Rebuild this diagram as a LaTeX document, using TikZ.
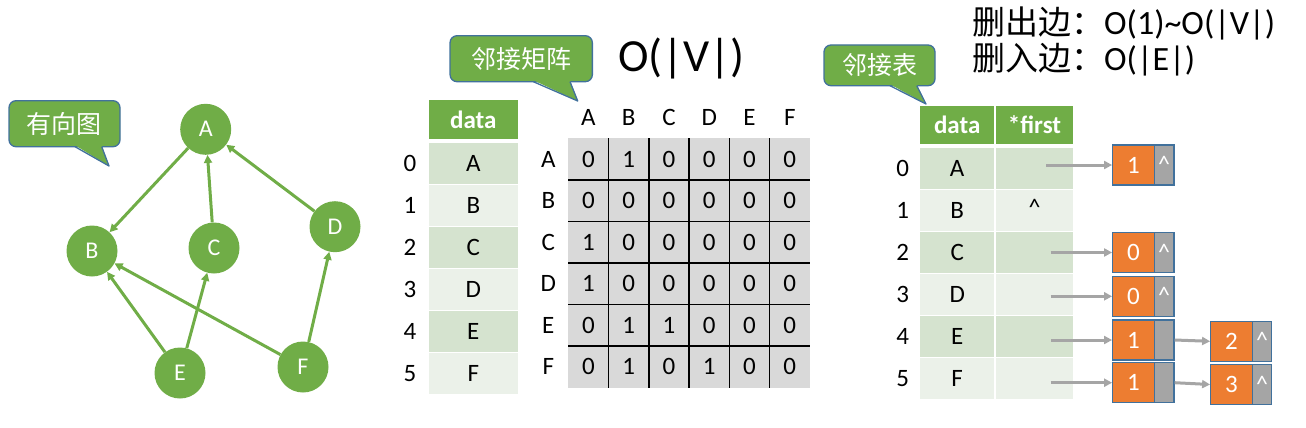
\documentclass[tikz,border=0pt]{standalone}
\usepackage{fontspec}
\setmainfont{Carlito}
\newfontfamily\cjk{Noto Sans CJK SC}
\usetikzlibrary{arrows.meta}
\definecolor{gr}{HTML}{70AD47}
\definecolor{bl}{HTML}{41719C}
\definecolor{orng}{HTML}{ED7D31}
\definecolor{gry}{HTML}{A5A5A5}
\definecolor{bandA}{HTML}{D5E3CF}
\definecolor{bandB}{HTML}{EBF1E9}
\definecolor{mgray}{HTML}{D9D9D9}
\newcommand\myfs[1]{\fontsize{#1}{#1}\selectfont}
\begin{document}
\begin{tikzpicture}[x=1pt,y=-1pt,
 vtx/.style={circle,fill=gr,minimum size=51pt,inner sep=0pt,text=white,font=\myfs{24}},
 gedge/.style={draw=gr,line width=3pt,-{Triangle[length=8pt,width=8pt]}},
 callbox/.style={draw=bl,line width=1.3pt,fill=gr,rounded corners=7pt,text=white,font=\cjk\myfs{25},inner sep=0pt},
 ptrfill/.style={fill=gr},
 ptrline/.style={draw=bl,line width=1.3pt,line join=round},
 lbl/.style={inner sep=0pt,font=\myfs{25}},
 hdr/.style={fill=gr,text=white,font=\bfseries\myfs{25},inner sep=0pt},
 cell/.style={inner sep=0pt,font=\myfs{25}},
 onode/.style={fill=orng,draw=bl,line width=1.2pt,text=white,font=\myfs{25},minimum width=41.6pt,minimum height=40pt,inner sep=0pt},
 gnode/.style={fill=gry,draw=bl,line width=1.2pt,minimum width=19.7pt,minimum height=40pt,inner sep=0pt,text=white,font=\myfs{24},text height=1.5em,text depth=0pt},
 caret/.style={inner sep=0pt,font=\myfs{24},text height=1.12em,text depth=0pt},
 parr/.style={draw=gry,line width=3pt,-{Triangle[length=8pt,width=8pt]}},
]
\useasboundingbox (0,0) rectangle (1306,428);

% ---------- directed graph ----------
\node[vtx] (A) at (205.7,129.3) {A};
\node[vtx] (B) at (92,251) {B};
\node[vtx] (C) at (214,248) {C};
\node[vtx] (D) at (335,226.7) {D};
\node[vtx] (E) at (180,373) {E};
\node[vtx] (F) at (303,367) {F};
\draw[gedge] (A) -- (B);
\draw[gedge] (C) -- (A);
\draw[gedge] (D) -- (A);
\draw[gedge] (E) -- (B);
\draw[gedge] (E) -- (C);
\draw[gedge] (F) -- (B);
\draw[gedge] (F) -- (D);

% callout 1
\node[callbox,minimum width=111pt,minimum height=46pt] (c1) at (64.5,123.7) {有向图};
\fill[ptrfill] (75,145.2) -- (109,166) -- (101.7,145.2) -- cycle;
\draw[ptrline] (75,146.7) -- (109,166) -- (101.7,146.7);

% ---------- adjacency matrix ----------
\node[callbox,minimum width=142.3pt,minimum height=46pt] (c2) at (521.2,58.7) {邻接矩阵};
\fill[ptrfill] (533.3,80.2) -- (577.7,101) -- (570,80.2) -- cycle;
\draw[ptrline] (533.3,81.7) -- (577.7,101) -- (570,81.7);
\node[anchor=base west,inner sep=0pt,font=\myfs{46}] (ov) at (618,71.7) {O(|V|)};

\node[hdr,minimum width=88.7pt,minimum height=39pt] (dh) at (473.3,119.5) {data};
\foreach \t/\c [count=\i from 0] in {A/bandA,B/bandB,C/bandA,D/bandB,E/bandA,F/bandB}{
  \node[cell,fill=\c,minimum width=88.7pt,minimum height=40.5pt] (d\i) at (473.3,{163.5+42*\i}) {\t};
  \node[lbl] (i\i) at (410,{163.5+42*\i}) {\i};
}

\fill[mgray] (568.3,138.3) rectangle (810,387.7);
\foreach \k in {1,...,5}{
  \draw[line width=1.4pt] ({568.3+40.28*\k},138.3) -- ({568.3+40.28*\k},387.7);
  \draw[line width=1.4pt] (568.3,{138.3+41.57*\k}) -- (810,{138.3+41.57*\k});
}
\foreach \t [count=\j from 0] in {A,B,C,D,E,F}{
  \node[lbl] (ch\j) at ({588.4+40.28*\j},117.3) {\t};
  \node[lbl] (rh\j) at (548.3,{159.1+41.57*\j}) {\t};
}
\foreach \vals [count=\i from 0] in {{0,1,0,0,0,0},{0,0,0,0,0,0},{1,0,0,0,0,0},{1,0,0,0,0,0},{0,1,1,0,0,0},{0,1,0,1,0,0}}{
  \foreach \v [count=\j from 0] in \vals{
    \node[lbl] (m\i\j) at ({588.4+40.28*\j},{159.1+41.57*\i}) {\v};
  }
}

% ---------- adjacency list ----------
\node[anchor=base west,inner sep=0pt,font=\myfs{34}] (t1) at (972,35) {{\cjk\myfs{33}删出边：}O(1)\textasciitilde O(|V|)};
\node[anchor=base west,inner sep=0pt,font=\myfs{34}] (t2) at (972,70.7) {{\cjk\myfs{33}删入边：}O(|E|)};

\node[callbox,minimum width=111pt,minimum height=40.7pt] (c3) at (879.5,65.35) {邻接表};
\fill[ptrfill] (890,84.2) -- (926,104) -- (916.7,84.2) -- cycle;
\draw[ptrline] (890,85.7) -- (926,104) -- (916.7,85.7);

\node[hdr,minimum width=74.3pt,minimum height=38.3pt] (th) at (957.2,124.9) {data};
\node[hdr,minimum width=77.6pt,minimum height=38.3pt] (fh) at (1034.5,124.9) {*first};
\foreach \t/\c [count=\i from 0] in {A/bandA,B/bandB,C/bandA,D/bandB,E/bandA,F/bandB}{
  \node[cell,fill=\c,minimum width=74.3pt,minimum height=40.5pt] (t\i) at (957.2,{168.3+42.08*\i}) {\t};
  \node[cell,fill=\c,minimum width=77.6pt,minimum height=40.5pt] (f\i) at (1034.5,{168.3+42.08*\i}) {};
  \node[lbl] (j\i) at (902.7,{168.3+42.08*\i}) {\i};
}
\node[caret] (nul1) at (f1.center) {\textasciicircum};

% list nodes
\node[onode] (o0) at (1133.5,165) {1};
\node[gnode] (g0) at (1164.15,165) {\textasciicircum};
\node[onode] (o2) at (1133.5,252.5) {0};
\node[gnode] (g2) at (1164.15,252.5) {\textasciicircum};
\node[onode] (o3) at (1133.5,296.3) {0};
\node[gnode] (g3) at (1164.15,296.3) {\textasciicircum};
\node[onode] (o4) at (1133.5,340) {1};
\node[gnode] (g4) at (1164.15,340) {};
\node[onode] (o4b) at (1231.5,341.3) {2};
\node[gnode] (g4b) at (1262,341.3) {\textasciicircum};
\node[onode] (o5) at (1133.5,382.7) {1};
\node[gnode] (g5) at (1164.15,382.7) {};
\node[onode] (o5b) at (1231.5,384.5) {3};
\node[gnode] (g5b) at (1262,384.5) {\textasciicircum};

\coordinate (s0) at (1046,165);
\coordinate (s2) at (1050.7,252.5);
\coordinate (s3) at (1050.7,296.3);
\coordinate (s4) at (1051,340);
\coordinate (s5) at (1050.7,382.7);
\draw[parr] (s0) -- (o0.west);
\draw[parr] (s2) -- (o2.west);
\draw[parr] (s3) -- (o3.west);
\draw[parr] (s4) -- (o4.west);
\draw[parr] (s5) -- (o5.west);
\draw[parr] (g4.east) -- (o4b.west);
\draw[parr] (g5.east) -- (o5b.west);
\end{tikzpicture}
\end{document}
